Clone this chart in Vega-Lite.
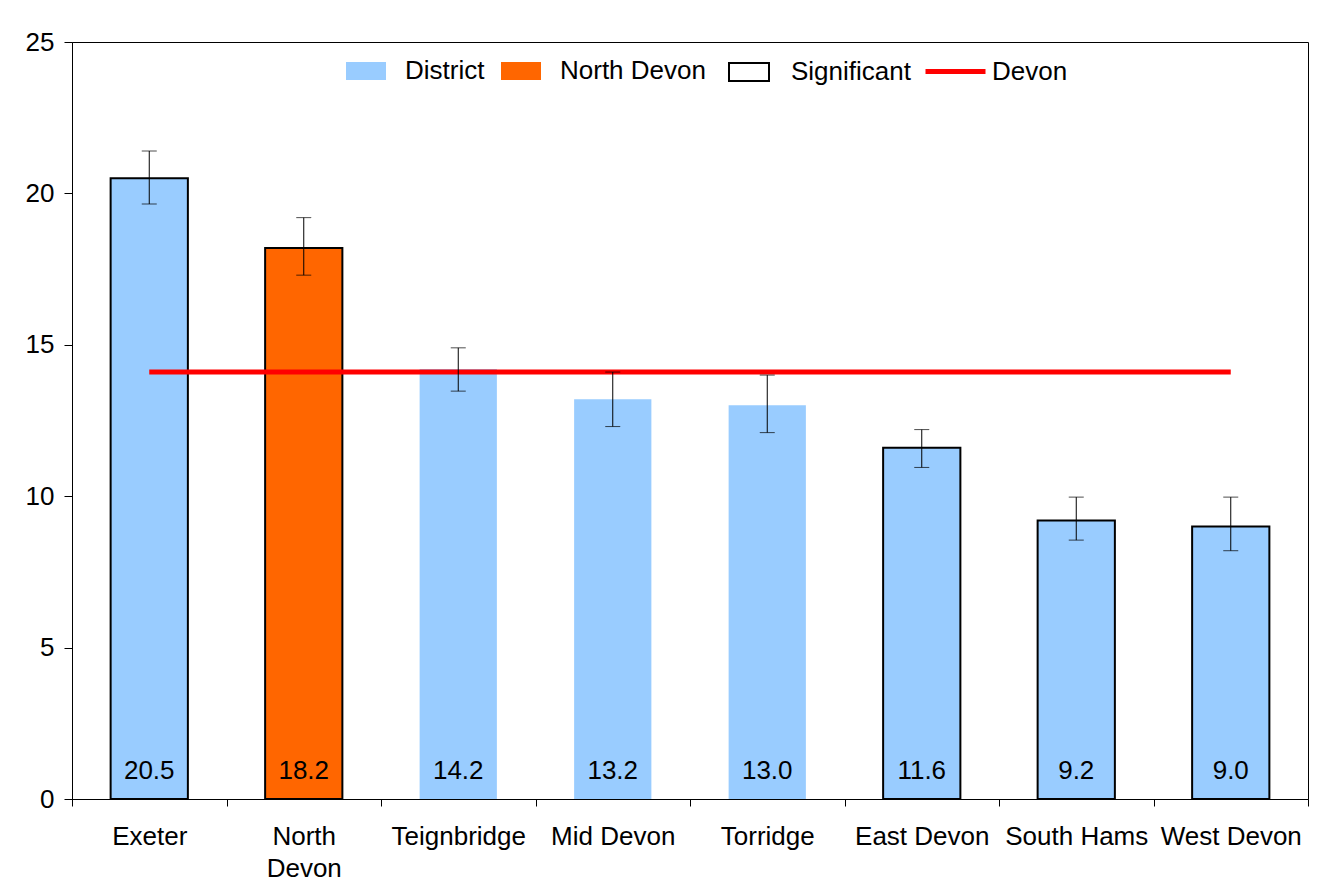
{
  "$schema": "https://vega.github.io/schema/vega-lite/v6.json",
  "width": 1236,
  "height": 757,
  "autosize": "none",
  "padding": {"left": 72, "top": 42, "right": 13, "bottom": 97},
  "background": "white",
  "config": {
    "font": "Liberation Sans",
    "view": {"stroke": "black", "strokeWidth": 1},
    "axis": {"labelFont": "Liberation Sans", "labelFontSize": 26, "labelColor": "black", "domainColor": "black", "tickColor": "black", "grid": false},
    "legend": {"labelFont": "Liberation Sans", "labelFontSize": 26, "labelColor": "black", "orient": "none", "direction": "horizontal", "title": null}
  },
  "data": {
    "values": [
      {"name": "Exeter", "value": 20.5, "lo": 19.65, "hi": 21.4, "type": "District", "sig": true, "devon": 14.1},
      {"name": "North Devon", "value": 18.2, "lo": 17.3, "hi": 19.2, "type": "North Devon", "sig": true, "devon": 14.1},
      {"name": "Teignbridge", "value": 14.2, "lo": 13.47, "hi": 14.9, "type": "District", "sig": false, "devon": 14.1},
      {"name": "Mid Devon", "value": 13.2, "lo": 12.3, "hi": 14.1, "type": "District", "sig": false, "devon": 14.1},
      {"name": "Torridge", "value": 13.0, "lo": 12.1, "hi": 14.0, "type": "District", "sig": false, "devon": 14.1},
      {"name": "East Devon", "value": 11.6, "lo": 10.95, "hi": 12.2, "type": "District", "sig": true, "devon": 14.1},
      {"name": "South Hams", "value": 9.2, "lo": 8.55, "hi": 9.97, "type": "District", "sig": true, "devon": 14.1},
      {"name": "West Devon", "value": 9.0, "lo": 8.2, "hi": 9.97, "type": "District", "sig": true, "devon": 14.1}
    ]
  },
  "encoding": {
    "x": {
      "field": "name", "type": "nominal", "sort": null, "title": null,
      "scale": {"paddingInner": 0, "paddingOuter": 0},
      "axis": {
        "title": null,
        "labelAngle": 0, "tickBand": "extent", "tickSize": 7, "labelPadding": 17,
        "labelLimit": 0, "labelLineHeight": 32, "labelBaseline": "top",
        "labelExpr": "datum.label == 'North Devon' ? ['North', 'Devon'] : datum.label"
      }
    }
  },
  "resolve": {"scale": {"color": "independent"}, "legend": {"color": "independent"}},
  "layer": [
    {
      "mark": {"type": "bar", "width": {"band": 0.5}},
      "encoding": {
        "y": {"field": "value", "type": "quantitative", "title": null,
              "scale": {"domain": [0, 25], "nice": false, "zero": true},
              "axis": {"title": null, "values": [0, 5, 10, 15, 20, 25], "tickSize": 8, "labelPadding": 10}},
        "color": {
          "field": "type", "type": "nominal",
          "scale": {"domain": ["District", "North Devon"], "range": ["#99CCFF", "#FF6600"]},
          "legend": {
            "legendX": 274, "legendY": 9,
            "symbolSize": 1600, "labelOffset": 19, "columnPadding": 16,
            "symbolType": "M-1,-0.45H1V0.45H-1Z", "symbolStrokeWidth": 0, "symbolOpacity": 1
          }
        }
      }
    },
    {
      "transform": [{"filter": "datum.sig"}],
      "mark": {"type": "bar", "width": {"band": 0.5}, "filled": false, "strokeWidth": 2},
      "encoding": {
        "y": {"field": "value", "type": "quantitative", "title": null, "scale": {"domain": [0, 25], "nice": false}},
        "stroke": {
          "datum": "Significant",
          "scale": {"domain": ["Significant"], "range": ["black"]},
          "legend": {
            "legendX": 656, "legendY": 9,
            "symbolSize": 1600, "labelOffset": 21,
            "symbolType": "M-1,-0.45H1V0.45H-1Z", "symbolStrokeWidth": 2, "symbolFillColor": "white", "symbolOpacity": 1
          }
        }
      }
    },
    {
      "mark": {"type": "line", "strokeWidth": 5},
      "encoding": {
        "y": {"field": "devon", "type": "quantitative", "title": null, "scale": {"domain": [0, 25], "nice": false}},
        "color": {
          "datum": "Devon",
          "scale": {"domain": ["Devon"], "range": ["#FF0000"]},
          "legend": {
            "legendX": 851, "legendY": -3,
            "symbolSize": 3600, "labelOffset": 4,
            "symbolType": "stroke", "symbolStrokeWidth": 5, "symbolOpacity": 1
          }
        }
      }
    },
    {
      "mark": {"type": "errorbar", "color": "black", "thickness": 1, "ticks": {"size": 15, "thickness": 1}},
      "encoding": {"y": {"field": "lo", "type": "quantitative", "title": null, "scale": {"domain": [0, 25], "nice": false}}, "y2": {"field": "hi"}}
    },
    {
      "mark": {"type": "text", "fontSize": 26, "font": "Liberation Sans", "color": "black", "baseline": "middle", "dy": -28},
      "encoding": {"y": {"datum": 0, "scale": {"domain": [0, 25], "nice": false}}, "text": {"field": "value", "type": "quantitative", "format": ".1f"}}
    }
  ]
}
